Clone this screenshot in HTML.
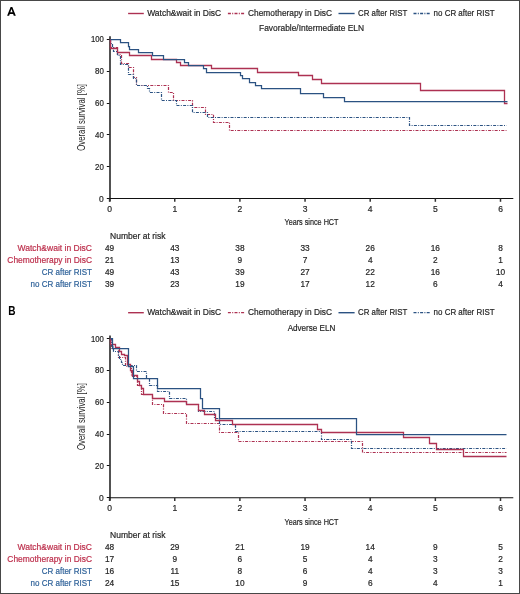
<!DOCTYPE html>
<html><head><meta charset="utf-8"><style>
html,body{margin:0;padding:0;background:#fff;width:520px;height:594px;overflow:hidden;}
svg{display:block;will-change:transform;font-family:"Liberation Sans", sans-serif;}
</style></head><body>
<svg width="520" height="594" viewBox="0 0 520 594" font-family='"Liberation Sans", sans-serif'>
<rect x="0" y="0" width="520" height="594" fill="#fff"/>
<path fill="#000" fill-rule="evenodd" d="M7.1 15.8L10.6 7.1H12.3L15.8 15.8H13.8L13.15 13.95H9.75L9.1 15.8Z M10.3 12.35H12.6L11.45 9.0Z"/>
<line x1="128.1" y1="13.5" x2="143.8" y2="13.5" stroke="#ad3152" stroke-width="1.4"/>
<text x="147.20" y="15.80" font-size="8.9" fill="#262626" textLength="74" lengthAdjust="spacingAndGlyphs" stroke="#262626" stroke-width="0.2">Watch&amp;wait in DisC</text>
<line x1="227.9" y1="13.5" x2="244.2" y2="13.5" stroke="#ad3152" stroke-width="1.3" stroke-dasharray="3 1.3 1 1.3"/>
<text x="248.00" y="15.80" font-size="8.9" fill="#262626" textLength="84" lengthAdjust="spacingAndGlyphs" stroke="#262626" stroke-width="0.2">Chemotherapy in DisC</text>
<line x1="338.5" y1="13.5" x2="354.6" y2="13.5" stroke="#2b5282" stroke-width="1.4"/>
<text x="358.00" y="15.80" font-size="8.9" fill="#262626" textLength="49.3" lengthAdjust="spacingAndGlyphs" stroke="#262626" stroke-width="0.2">CR after RIST</text>
<line x1="413.5" y1="13.5" x2="430.8" y2="13.5" stroke="#2b5282" stroke-width="1.3" stroke-dasharray="3 1.3 1 1.3"/>
<text x="433.60" y="15.80" font-size="8.9" fill="#262626" textLength="61" lengthAdjust="spacingAndGlyphs" stroke="#262626" stroke-width="0.2">no CR after RIST</text>
<text x="311.50" y="31.30" font-size="8.9" fill="#262626" text-anchor="middle" textLength="105" lengthAdjust="spacingAndGlyphs" stroke="#262626" stroke-width="0.2">Favorable/Intermediate ELN</text>
<line x1="110" y1="36.3" x2="110" y2="201.5" stroke="#3f3f3f" stroke-width="1.8"/>
<line x1="109" y1="198.5" x2="513.3" y2="198.5" stroke="#111" stroke-width="1.1"/>
<line x1="106.8" y1="198.50" x2="109.5" y2="198.50" stroke="#111" stroke-width="1"/>
<text x="103.80" y="201.55" font-size="8.5" fill="#262626" text-anchor="end" stroke="#262626" stroke-width="0.2">0</text>
<line x1="106.8" y1="166.50" x2="109.5" y2="166.50" stroke="#111" stroke-width="1"/>
<text x="103.80" y="169.73" font-size="8.5" fill="#262626" text-anchor="end" textLength="8.8" lengthAdjust="spacingAndGlyphs" stroke="#262626" stroke-width="0.2">20</text>
<line x1="106.8" y1="134.50" x2="109.5" y2="134.50" stroke="#111" stroke-width="1"/>
<text x="103.80" y="137.91" font-size="8.5" fill="#262626" text-anchor="end" textLength="8.8" lengthAdjust="spacingAndGlyphs" stroke="#262626" stroke-width="0.2">40</text>
<line x1="106.8" y1="103.50" x2="109.5" y2="103.50" stroke="#111" stroke-width="1"/>
<text x="103.80" y="106.09" font-size="8.5" fill="#262626" text-anchor="end" textLength="8.8" lengthAdjust="spacingAndGlyphs" stroke="#262626" stroke-width="0.2">60</text>
<line x1="106.8" y1="71.50" x2="109.5" y2="71.50" stroke="#111" stroke-width="1"/>
<text x="103.80" y="74.27" font-size="8.5" fill="#262626" text-anchor="end" textLength="8.8" lengthAdjust="spacingAndGlyphs" stroke="#262626" stroke-width="0.2">80</text>
<line x1="106.8" y1="39.50" x2="109.5" y2="39.50" stroke="#111" stroke-width="1"/>
<text x="103.80" y="42.45" font-size="8.5" fill="#262626" text-anchor="end" textLength="12.9" lengthAdjust="spacingAndGlyphs" stroke="#262626" stroke-width="0.2">100</text>
<line x1="109.60" y1="198.5" x2="109.60" y2="201.8" stroke="#333" stroke-width="1.5"/>
<text x="109.60" y="212.00" font-size="8.5" fill="#262626" text-anchor="middle" stroke="#262626" stroke-width="0.2">0</text>
<line x1="174.75" y1="198.5" x2="174.75" y2="201.8" stroke="#333" stroke-width="1.5"/>
<text x="174.75" y="212.00" font-size="8.5" fill="#262626" text-anchor="middle" stroke="#262626" stroke-width="0.2">1</text>
<line x1="239.90" y1="198.5" x2="239.90" y2="201.8" stroke="#333" stroke-width="1.5"/>
<text x="239.90" y="212.00" font-size="8.5" fill="#262626" text-anchor="middle" stroke="#262626" stroke-width="0.2">2</text>
<line x1="305.05" y1="198.5" x2="305.05" y2="201.8" stroke="#333" stroke-width="1.5"/>
<text x="305.05" y="212.00" font-size="8.5" fill="#262626" text-anchor="middle" stroke="#262626" stroke-width="0.2">3</text>
<line x1="370.20" y1="198.5" x2="370.20" y2="201.8" stroke="#333" stroke-width="1.5"/>
<text x="370.20" y="212.00" font-size="8.5" fill="#262626" text-anchor="middle" stroke="#262626" stroke-width="0.2">4</text>
<line x1="435.35" y1="198.5" x2="435.35" y2="201.8" stroke="#333" stroke-width="1.5"/>
<text x="435.35" y="212.00" font-size="8.5" fill="#262626" text-anchor="middle" stroke="#262626" stroke-width="0.2">5</text>
<line x1="500.50" y1="198.5" x2="500.50" y2="201.8" stroke="#333" stroke-width="1.5"/>
<text x="500.50" y="212.00" font-size="8.5" fill="#262626" text-anchor="middle" stroke="#262626" stroke-width="0.2">6</text>
<text x="311.50" y="225.40" font-size="9.2" fill="#262626" text-anchor="middle" textLength="54" lengthAdjust="spacingAndGlyphs" stroke="#262626" stroke-width="0.2">Years since HCT</text>
<text x="0" y="0" font-size="10.2" fill="#262626" text-anchor="middle" textLength="66.8" lengthAdjust="spacingAndGlyphs" transform="translate(84.6 117.4) rotate(-90)">Overall survival [%]</text>
<path d="M110.50 39.50H110.50V47.50H117.50V54.50H121.50V63.50H128.50V67.50H133.50V77.50H136.50V85.50H168.50V92.50H173.50V100.50H192.50V107.50H205.50V114.50H213.50V122.50H229.50V130.50H506.50" fill="none" stroke="#ad3152" stroke-width="1.2" stroke-dasharray="3 1.3 1 1.3"/>
<path d="M110.50 39.50H110.50V43.50H112.50V47.50H113.50V51.50H117.50V55.50H120.50V64.50H128.50V74.50H133.50V78.50H136.50V85.50H147.50V88.50H149.50V92.50H161.50V100.50H176.50V105.50H192.50V112.50H207.50V117.50H409.50V125.50H506.50" fill="none" stroke="#2b5282" stroke-width="1.2" stroke-dasharray="3 1.3 1 1.3"/>
<path d="M110.50 39.50H110.50V48.50H117.50V52.50H129.50V55.50H151.50V59.50H176.50V62.50H180.50V65.50H211.50V68.50H257.50V72.50H298.50V75.50H312.50V79.50H321.50V83.50H420.50V90.50H504.50V103.50H507.50" fill="none" stroke="#ad3152" stroke-width="1.3"/>
<path d="M110.50 39.50H120.50V42.50H128.50V46.50H129.50V49.50H138.50V52.50H152.50V55.50H163.50V59.50H184.50V62.50H188.50V65.50H203.50V68.50H206.50V72.50H240.50V75.50H242.50V78.50H249.50V82.50H255.50V85.50H261.50V88.50H300.50V93.50H323.50V97.50H344.50V101.50H507.50" fill="none" stroke="#2b5282" stroke-width="1.25"/>
<text x="110.10" y="238.60" font-size="9" fill="#262626" textLength="55.3" lengthAdjust="spacingAndGlyphs" stroke="#262626" stroke-width="0.2">Number at risk</text>
<text x="92.00" y="250.70" font-size="8.9" fill="#bd2f4c" text-anchor="end" textLength="74.5" lengthAdjust="spacingAndGlyphs" stroke="#bd2f4c" stroke-width="0.2">Watch&amp;wait in DisC</text>
<text x="109.60" y="250.70" font-size="8.3" fill="#262626" text-anchor="middle" stroke="#262626" stroke-width="0.2">49</text>
<text x="174.75" y="250.70" font-size="8.3" fill="#262626" text-anchor="middle" stroke="#262626" stroke-width="0.2">43</text>
<text x="239.90" y="250.70" font-size="8.3" fill="#262626" text-anchor="middle" stroke="#262626" stroke-width="0.2">38</text>
<text x="305.05" y="250.70" font-size="8.3" fill="#262626" text-anchor="middle" stroke="#262626" stroke-width="0.2">33</text>
<text x="370.20" y="250.70" font-size="8.3" fill="#262626" text-anchor="middle" stroke="#262626" stroke-width="0.2">26</text>
<text x="435.35" y="250.70" font-size="8.3" fill="#262626" text-anchor="middle" stroke="#262626" stroke-width="0.2">16</text>
<text x="500.50" y="250.70" font-size="8.3" fill="#262626" text-anchor="middle" stroke="#262626" stroke-width="0.2">8</text>
<text x="92.00" y="262.75" font-size="8.9" fill="#bd2f4c" text-anchor="end" textLength="84.7" lengthAdjust="spacingAndGlyphs" stroke="#bd2f4c" stroke-width="0.2">Chemotherapy in DisC</text>
<text x="109.60" y="262.75" font-size="8.3" fill="#262626" text-anchor="middle" stroke="#262626" stroke-width="0.2">21</text>
<text x="174.75" y="262.75" font-size="8.3" fill="#262626" text-anchor="middle" stroke="#262626" stroke-width="0.2">13</text>
<text x="239.90" y="262.75" font-size="8.3" fill="#262626" text-anchor="middle" stroke="#262626" stroke-width="0.2">9</text>
<text x="305.05" y="262.75" font-size="8.3" fill="#262626" text-anchor="middle" stroke="#262626" stroke-width="0.2">7</text>
<text x="370.20" y="262.75" font-size="8.3" fill="#262626" text-anchor="middle" stroke="#262626" stroke-width="0.2">4</text>
<text x="435.35" y="262.75" font-size="8.3" fill="#262626" text-anchor="middle" stroke="#262626" stroke-width="0.2">2</text>
<text x="500.50" y="262.75" font-size="8.3" fill="#262626" text-anchor="middle" stroke="#262626" stroke-width="0.2">1</text>
<text x="92.00" y="274.80" font-size="8.9" fill="#30639a" text-anchor="end" textLength="50.3" lengthAdjust="spacingAndGlyphs" stroke="#30639a" stroke-width="0.2">CR after RIST</text>
<text x="109.60" y="274.80" font-size="8.3" fill="#262626" text-anchor="middle" stroke="#262626" stroke-width="0.2">49</text>
<text x="174.75" y="274.80" font-size="8.3" fill="#262626" text-anchor="middle" stroke="#262626" stroke-width="0.2">43</text>
<text x="239.90" y="274.80" font-size="8.3" fill="#262626" text-anchor="middle" stroke="#262626" stroke-width="0.2">39</text>
<text x="305.05" y="274.80" font-size="8.3" fill="#262626" text-anchor="middle" stroke="#262626" stroke-width="0.2">27</text>
<text x="370.20" y="274.80" font-size="8.3" fill="#262626" text-anchor="middle" stroke="#262626" stroke-width="0.2">22</text>
<text x="435.35" y="274.80" font-size="8.3" fill="#262626" text-anchor="middle" stroke="#262626" stroke-width="0.2">16</text>
<text x="500.50" y="274.80" font-size="8.3" fill="#262626" text-anchor="middle" stroke="#262626" stroke-width="0.2">10</text>
<text x="92.00" y="286.85" font-size="8.9" fill="#30639a" text-anchor="end" textLength="61.5" lengthAdjust="spacingAndGlyphs" stroke="#30639a" stroke-width="0.2">no CR after RIST</text>
<text x="109.60" y="286.85" font-size="8.3" fill="#262626" text-anchor="middle" stroke="#262626" stroke-width="0.2">39</text>
<text x="174.75" y="286.85" font-size="8.3" fill="#262626" text-anchor="middle" stroke="#262626" stroke-width="0.2">23</text>
<text x="239.90" y="286.85" font-size="8.3" fill="#262626" text-anchor="middle" stroke="#262626" stroke-width="0.2">19</text>
<text x="305.05" y="286.85" font-size="8.3" fill="#262626" text-anchor="middle" stroke="#262626" stroke-width="0.2">17</text>
<text x="370.20" y="286.85" font-size="8.3" fill="#262626" text-anchor="middle" stroke="#262626" stroke-width="0.2">12</text>
<text x="435.35" y="286.85" font-size="8.3" fill="#262626" text-anchor="middle" stroke="#262626" stroke-width="0.2">6</text>
<text x="500.50" y="286.85" font-size="8.3" fill="#262626" text-anchor="middle" stroke="#262626" stroke-width="0.2">4</text>

<text x="8.30" y="315.00" font-size="12.4" fill="#000" textLength="7.3" lengthAdjust="spacingAndGlyphs" font-weight="bold">B</text>
<line x1="128.1" y1="312.7" x2="143.8" y2="312.7" stroke="#ad3152" stroke-width="1.4"/>
<text x="147.20" y="315.00" font-size="8.9" fill="#262626" textLength="74" lengthAdjust="spacingAndGlyphs" stroke="#262626" stroke-width="0.2">Watch&amp;wait in DisC</text>
<line x1="227.9" y1="312.7" x2="244.2" y2="312.7" stroke="#ad3152" stroke-width="1.3" stroke-dasharray="3 1.3 1 1.3"/>
<text x="248.00" y="315.00" font-size="8.9" fill="#262626" textLength="84" lengthAdjust="spacingAndGlyphs" stroke="#262626" stroke-width="0.2">Chemotherapy in DisC</text>
<line x1="338.5" y1="312.7" x2="354.6" y2="312.7" stroke="#2b5282" stroke-width="1.4"/>
<text x="358.00" y="315.00" font-size="8.9" fill="#262626" textLength="49.3" lengthAdjust="spacingAndGlyphs" stroke="#262626" stroke-width="0.2">CR after RIST</text>
<line x1="413.5" y1="312.7" x2="430.8" y2="312.7" stroke="#2b5282" stroke-width="1.3" stroke-dasharray="3 1.3 1 1.3"/>
<text x="433.60" y="315.00" font-size="8.9" fill="#262626" textLength="61" lengthAdjust="spacingAndGlyphs" stroke="#262626" stroke-width="0.2">no CR after RIST</text>
<text x="311.50" y="330.50" font-size="8.9" fill="#262626" text-anchor="middle" textLength="47.7" lengthAdjust="spacingAndGlyphs" stroke="#262626" stroke-width="0.2">Adverse ELN</text>
<line x1="110" y1="335.5" x2="110" y2="500.7" stroke="#3f3f3f" stroke-width="1.8"/>
<line x1="109" y1="497.7" x2="513.3" y2="497.7" stroke="#111" stroke-width="1.1"/>
<line x1="106.8" y1="497.50" x2="109.5" y2="497.50" stroke="#111" stroke-width="1"/>
<text x="103.80" y="500.75" font-size="8.5" fill="#262626" text-anchor="end" stroke="#262626" stroke-width="0.2">0</text>
<line x1="106.8" y1="465.50" x2="109.5" y2="465.50" stroke="#111" stroke-width="1"/>
<text x="103.80" y="468.93" font-size="8.5" fill="#262626" text-anchor="end" textLength="8.8" lengthAdjust="spacingAndGlyphs" stroke="#262626" stroke-width="0.2">20</text>
<line x1="106.8" y1="434.50" x2="109.5" y2="434.50" stroke="#111" stroke-width="1"/>
<text x="103.80" y="437.11" font-size="8.5" fill="#262626" text-anchor="end" textLength="8.8" lengthAdjust="spacingAndGlyphs" stroke="#262626" stroke-width="0.2">40</text>
<line x1="106.8" y1="402.50" x2="109.5" y2="402.50" stroke="#111" stroke-width="1"/>
<text x="103.80" y="405.29" font-size="8.5" fill="#262626" text-anchor="end" textLength="8.8" lengthAdjust="spacingAndGlyphs" stroke="#262626" stroke-width="0.2">60</text>
<line x1="106.8" y1="370.50" x2="109.5" y2="370.50" stroke="#111" stroke-width="1"/>
<text x="103.80" y="373.47" font-size="8.5" fill="#262626" text-anchor="end" textLength="8.8" lengthAdjust="spacingAndGlyphs" stroke="#262626" stroke-width="0.2">80</text>
<line x1="106.8" y1="338.50" x2="109.5" y2="338.50" stroke="#111" stroke-width="1"/>
<text x="103.80" y="341.65" font-size="8.5" fill="#262626" text-anchor="end" textLength="12.9" lengthAdjust="spacingAndGlyphs" stroke="#262626" stroke-width="0.2">100</text>
<line x1="109.60" y1="497.7" x2="109.60" y2="501.0" stroke="#333" stroke-width="1.5"/>
<text x="109.60" y="511.20" font-size="8.5" fill="#262626" text-anchor="middle" stroke="#262626" stroke-width="0.2">0</text>
<line x1="174.75" y1="497.7" x2="174.75" y2="501.0" stroke="#333" stroke-width="1.5"/>
<text x="174.75" y="511.20" font-size="8.5" fill="#262626" text-anchor="middle" stroke="#262626" stroke-width="0.2">1</text>
<line x1="239.90" y1="497.7" x2="239.90" y2="501.0" stroke="#333" stroke-width="1.5"/>
<text x="239.90" y="511.20" font-size="8.5" fill="#262626" text-anchor="middle" stroke="#262626" stroke-width="0.2">2</text>
<line x1="305.05" y1="497.7" x2="305.05" y2="501.0" stroke="#333" stroke-width="1.5"/>
<text x="305.05" y="511.20" font-size="8.5" fill="#262626" text-anchor="middle" stroke="#262626" stroke-width="0.2">3</text>
<line x1="370.20" y1="497.7" x2="370.20" y2="501.0" stroke="#333" stroke-width="1.5"/>
<text x="370.20" y="511.20" font-size="8.5" fill="#262626" text-anchor="middle" stroke="#262626" stroke-width="0.2">4</text>
<line x1="435.35" y1="497.7" x2="435.35" y2="501.0" stroke="#333" stroke-width="1.5"/>
<text x="435.35" y="511.20" font-size="8.5" fill="#262626" text-anchor="middle" stroke="#262626" stroke-width="0.2">5</text>
<line x1="500.50" y1="497.7" x2="500.50" y2="501.0" stroke="#333" stroke-width="1.5"/>
<text x="500.50" y="511.20" font-size="8.5" fill="#262626" text-anchor="middle" stroke="#262626" stroke-width="0.2">6</text>
<text x="311.50" y="524.60" font-size="9.2" fill="#262626" text-anchor="middle" textLength="54" lengthAdjust="spacingAndGlyphs" stroke="#262626" stroke-width="0.2">Years since HCT</text>
<text x="0" y="0" font-size="10.2" fill="#262626" text-anchor="middle" textLength="66.8" lengthAdjust="spacingAndGlyphs" transform="translate(84.6 416.6) rotate(-90)">Overall survival [%]</text>
<path d="M110.50 338.50H111.50V348.50H118.50V357.50H125.50V366.50H131.50V376.50H137.50V385.50H141.50V394.50H152.50V404.50H163.50V413.50H186.50V423.50H219.50V432.50H238.50V441.50H362.50V452.50H506.50" fill="none" stroke="#ad3152" stroke-width="1.2" stroke-dasharray="3 1.3 1 1.3"/>
<path d="M110.50 338.50H111.50V345.50H113.50V351.50H118.50V355.50H119.50V359.50H121.50V362.50H122.50V365.50H136.50V371.50H146.50V378.50H149.50V385.50H157.50V391.50H169.50V398.50H186.50V404.50H198.50V411.50H214.50V418.50H219.50V424.50H235.50V431.50H321.50V439.50H351.50V448.50H506.50" fill="none" stroke="#2b5282" stroke-width="1.2" stroke-dasharray="3 1.3 1 1.3"/>
<path d="M110.50 338.50H110.50V344.50H115.50V347.50H119.50V351.50H121.50V354.50H124.50V355.50H127.50V364.50H130.50V370.50H132.50V375.50H137.50V381.50H139.50V385.50H141.50V388.50H143.50V394.50H152.50V398.50H164.50V401.50H186.50V404.50H198.50V410.50H204.50V414.50H215.50V420.50H232.50V424.50H317.50V429.50H321.50V432.50H403.50V437.50H429.50V443.50H436.50V449.50H463.50V456.50H506.50" fill="none" stroke="#ad3152" stroke-width="1.3"/>
<path d="M110.50 338.50H112.50V348.50H128.50V366.50H133.50V378.50H157.50V388.50H200.50V398.50H202.50V408.50H219.50V418.50H356.50V434.50H506.50" fill="none" stroke="#2b5282" stroke-width="1.25"/>
<text x="110.10" y="537.80" font-size="9" fill="#262626" textLength="55.3" lengthAdjust="spacingAndGlyphs" stroke="#262626" stroke-width="0.2">Number at risk</text>
<text x="92.00" y="549.90" font-size="8.9" fill="#bd2f4c" text-anchor="end" textLength="74.5" lengthAdjust="spacingAndGlyphs" stroke="#bd2f4c" stroke-width="0.2">Watch&amp;wait in DisC</text>
<text x="109.60" y="549.90" font-size="8.3" fill="#262626" text-anchor="middle" stroke="#262626" stroke-width="0.2">48</text>
<text x="174.75" y="549.90" font-size="8.3" fill="#262626" text-anchor="middle" stroke="#262626" stroke-width="0.2">29</text>
<text x="239.90" y="549.90" font-size="8.3" fill="#262626" text-anchor="middle" stroke="#262626" stroke-width="0.2">21</text>
<text x="305.05" y="549.90" font-size="8.3" fill="#262626" text-anchor="middle" stroke="#262626" stroke-width="0.2">19</text>
<text x="370.20" y="549.90" font-size="8.3" fill="#262626" text-anchor="middle" stroke="#262626" stroke-width="0.2">14</text>
<text x="435.35" y="549.90" font-size="8.3" fill="#262626" text-anchor="middle" stroke="#262626" stroke-width="0.2">9</text>
<text x="500.50" y="549.90" font-size="8.3" fill="#262626" text-anchor="middle" stroke="#262626" stroke-width="0.2">5</text>
<text x="92.00" y="561.95" font-size="8.9" fill="#bd2f4c" text-anchor="end" textLength="84.7" lengthAdjust="spacingAndGlyphs" stroke="#bd2f4c" stroke-width="0.2">Chemotherapy in DisC</text>
<text x="109.60" y="561.95" font-size="8.3" fill="#262626" text-anchor="middle" stroke="#262626" stroke-width="0.2">17</text>
<text x="174.75" y="561.95" font-size="8.3" fill="#262626" text-anchor="middle" stroke="#262626" stroke-width="0.2">9</text>
<text x="239.90" y="561.95" font-size="8.3" fill="#262626" text-anchor="middle" stroke="#262626" stroke-width="0.2">6</text>
<text x="305.05" y="561.95" font-size="8.3" fill="#262626" text-anchor="middle" stroke="#262626" stroke-width="0.2">5</text>
<text x="370.20" y="561.95" font-size="8.3" fill="#262626" text-anchor="middle" stroke="#262626" stroke-width="0.2">4</text>
<text x="435.35" y="561.95" font-size="8.3" fill="#262626" text-anchor="middle" stroke="#262626" stroke-width="0.2">3</text>
<text x="500.50" y="561.95" font-size="8.3" fill="#262626" text-anchor="middle" stroke="#262626" stroke-width="0.2">2</text>
<text x="92.00" y="574.00" font-size="8.9" fill="#30639a" text-anchor="end" textLength="50.3" lengthAdjust="spacingAndGlyphs" stroke="#30639a" stroke-width="0.2">CR after RIST</text>
<text x="109.60" y="574.00" font-size="8.3" fill="#262626" text-anchor="middle" stroke="#262626" stroke-width="0.2">16</text>
<text x="174.75" y="574.00" font-size="8.3" fill="#262626" text-anchor="middle" stroke="#262626" stroke-width="0.2">11</text>
<text x="239.90" y="574.00" font-size="8.3" fill="#262626" text-anchor="middle" stroke="#262626" stroke-width="0.2">8</text>
<text x="305.05" y="574.00" font-size="8.3" fill="#262626" text-anchor="middle" stroke="#262626" stroke-width="0.2">6</text>
<text x="370.20" y="574.00" font-size="8.3" fill="#262626" text-anchor="middle" stroke="#262626" stroke-width="0.2">4</text>
<text x="435.35" y="574.00" font-size="8.3" fill="#262626" text-anchor="middle" stroke="#262626" stroke-width="0.2">3</text>
<text x="500.50" y="574.00" font-size="8.3" fill="#262626" text-anchor="middle" stroke="#262626" stroke-width="0.2">3</text>
<text x="92.00" y="586.05" font-size="8.9" fill="#30639a" text-anchor="end" textLength="61.5" lengthAdjust="spacingAndGlyphs" stroke="#30639a" stroke-width="0.2">no CR after RIST</text>
<text x="109.60" y="586.05" font-size="8.3" fill="#262626" text-anchor="middle" stroke="#262626" stroke-width="0.2">24</text>
<text x="174.75" y="586.05" font-size="8.3" fill="#262626" text-anchor="middle" stroke="#262626" stroke-width="0.2">15</text>
<text x="239.90" y="586.05" font-size="8.3" fill="#262626" text-anchor="middle" stroke="#262626" stroke-width="0.2">10</text>
<text x="305.05" y="586.05" font-size="8.3" fill="#262626" text-anchor="middle" stroke="#262626" stroke-width="0.2">9</text>
<text x="370.20" y="586.05" font-size="8.3" fill="#262626" text-anchor="middle" stroke="#262626" stroke-width="0.2">6</text>
<text x="435.35" y="586.05" font-size="8.3" fill="#262626" text-anchor="middle" stroke="#262626" stroke-width="0.2">4</text>
<text x="500.50" y="586.05" font-size="8.3" fill="#262626" text-anchor="middle" stroke="#262626" stroke-width="0.2">1</text>

<rect x="0.5" y="0.5" width="519" height="593" fill="none" stroke="#474747" stroke-width="1"/>
</svg>
</body></html>
